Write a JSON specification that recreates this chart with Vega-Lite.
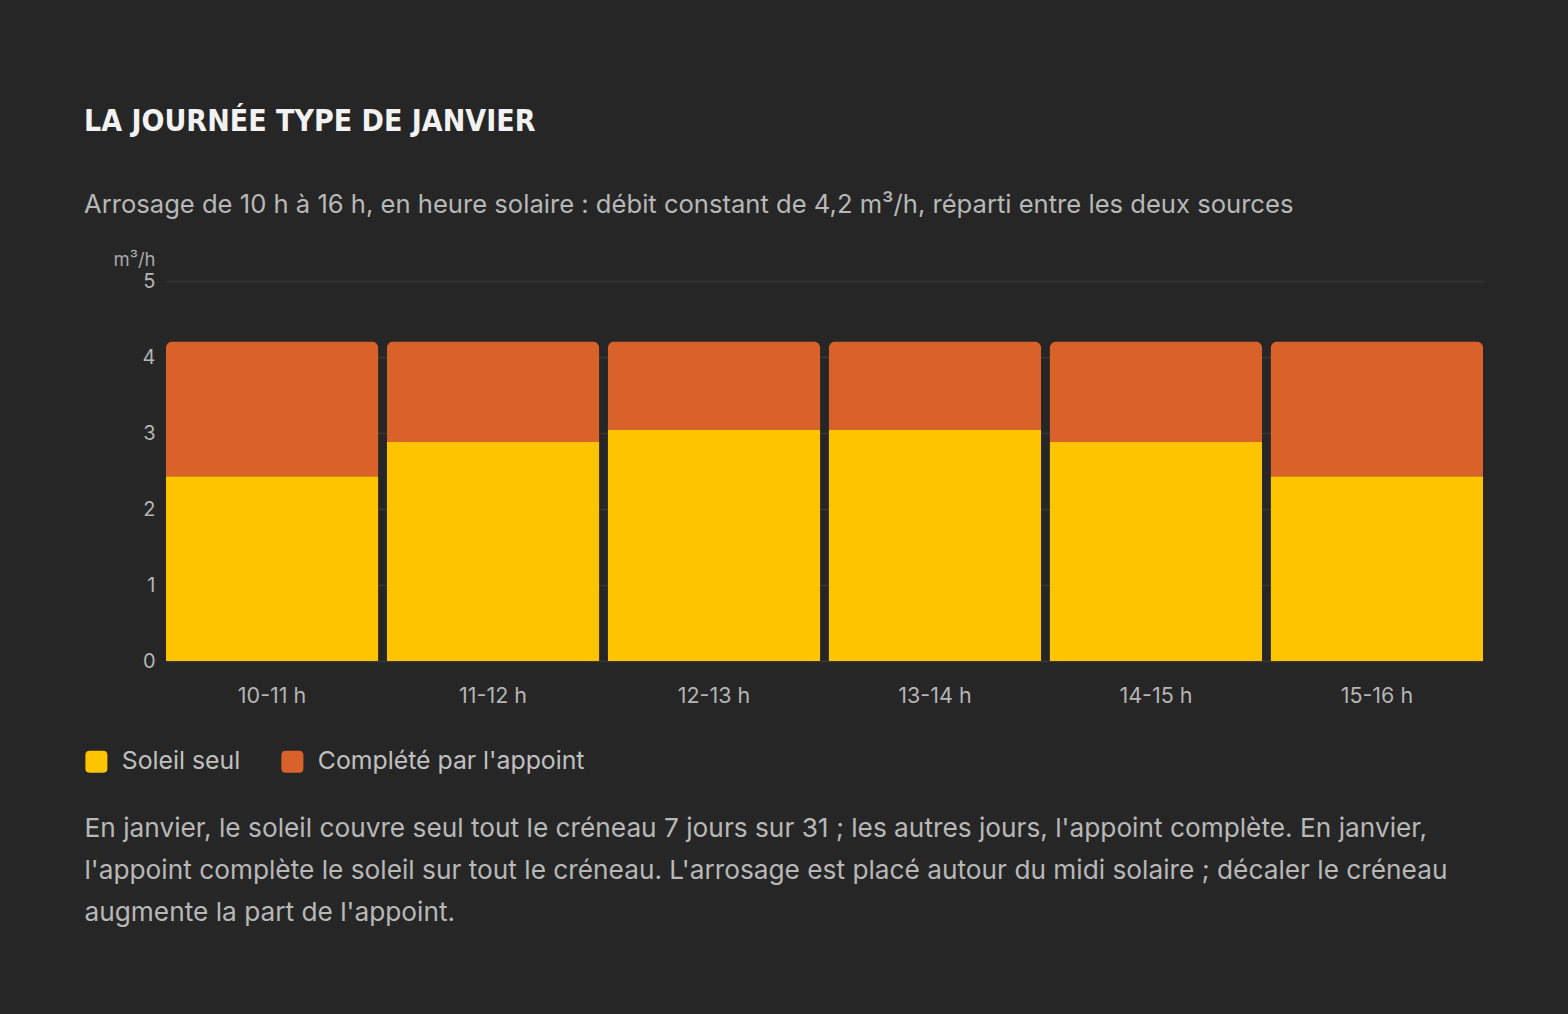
{
  "$schema": "https://vega.github.io/schema/vega-lite/v6.json",
  "width": 1317,
  "height": 380,
  "autosize": {"type": "none"},
  "padding": {"left": 166, "top": 281, "right": 85, "bottom": 353},
  "background": "#262626",
  "title": {
    "text": "LA JOURNÉE TYPE DE JANVIER",
    "subtitle": "Arrosage de 10 h à 16 h, en heure solaire : débit constant de 4,2 m³/h, réparti entre les deux sources",
    "anchor": "start",
    "frame": "group",
    "dx": -82,
    "offset": 31,
    "font": "'Liberation Sans Narrow', 'DejaVu Sans Condensed', 'Roboto', sans-serif",
    "fontSize": 30,
    "fontWeight": "bold",
    "color": "#f2f2f2",
    "subtitleFont": "Inter",
    "subtitleFontSize": 25.6,
    "subtitleColor": "#b8b8b8",
    "subtitlePadding": 56
  },
  "data": {
    "values": [
      {"heure": "10-11 h", "soleil": 2.43, "total": 4.2},
      {"heure": "11-12 h", "soleil": 2.88, "total": 4.2},
      {"heure": "12-13 h", "soleil": 3.04, "total": 4.2},
      {"heure": "13-14 h", "soleil": 3.04, "total": 4.2},
      {"heure": "14-15 h", "soleil": 2.88, "total": 4.2},
      {"heure": "15-16 h", "soleil": 2.43, "total": 4.2}
    ]
  },
  "encoding": {
    "x": {
      "field": "heure",
      "type": "nominal",
      "sort": null,
      "scale": {"paddingInner": 0.04, "paddingOuter": 0},
      "axis": {
        "labelAngle": 0,
        "labelFont": "Inter",
        "labelFontSize": 21.5,
        "labelColor": "#b5b5b5",
        "labelPadding": 24,
        "ticks": false,
        "domain": false,
        "title": [
          "En janvier, le soleil couvre seul tout le créneau 7 jours sur 31 ; les autres jours, l'appoint complète. En janvier,",
          "l'appoint complète le soleil sur tout le créneau. L'arrosage est placé autour du midi solaire ; décaler le créneau",
          "augmente la part de l'appoint."
        ],
        "titleFont": "Inter",
        "titleFontSize": 26.25,
        "titleFontWeight": "normal",
        "titleColor": "#b8b8b8",
        "titleLineHeight": 42,
        "titleAnchor": "start",
        "titleAlign": "left",
        "titleBaseline": "alphabetic",
        "titleX": -82,
        "titleY": 175,
        "titleLimit": 2000
      }
    }
  },
  "layer": [
    {
      "mark": {"type": "bar"},
      "encoding": {
        "y": {
          "field": "soleil",
          "type": "quantitative",
          "scale": {"domain": [0, 5], "nice": false},
          "axis": {
            "values": [0, 1, 2, 3, 4, 5],
            "format": "d",
            "title": "m³/h",
            "titleAngle": 0,
            "titleAlign": "right",
            "titleBaseline": "alphabetic",
            "titleX": -11,
            "titleY": -16,
            "titleFont": "Inter",
            "titleFontSize": 18.5,
            "titleFontWeight": "normal",
            "titleColor": "#aaaaaa",
            "labelFont": "Inter",
            "labelFontSize": 20,
            "labelColor": "#b5b5b5",
            "labelPadding": 11,
            "ticks": false,
            "domain": false,
            "gridColor": "#383838",
            "gridWidth": 1.5
          }
        },
        "color": {
          "datum": "Soleil seul",
          "type": "nominal",
          "scale": {
            "domain": ["Soleil seul", "Complété par l'appoint"],
            "range": ["#ffc400", "#d9622b"]
          },
          "legend": {
            "orient": "none",
            "direction": "horizontal",
            "legendX": -82,
            "legendY": 468,
            "title": null,
            "symbolType": "M -0.6 -1 L 0.6 -1 Q 1 -1 1 -0.6 L 1 0.6 Q 1 1 0.6 1 L -0.6 1 Q -1 1 -1 0.6 L -1 -0.6 Q -1 -1 -0.6 -1 Z",
            "symbolSize": 484,
            "symbolStrokeWidth": 0,
            "symbolOpacity": 1,
            "labelFont": "Inter",
            "labelFontSize": 24.8,
            "labelColor": "#c0c0c0",
            "labelOffset": 13,
            "columnPadding": 39,
            "labelLimit": 500
          }
        }
      }
    },
    {
      "mark": {"type": "bar", "cornerRadiusTopLeft": 6, "cornerRadiusTopRight": 6},
      "encoding": {
        "y": {"field": "soleil", "type": "quantitative"},
        "y2": {"field": "total"},
        "color": {"datum": "Complété par l'appoint", "type": "nominal"}
      }
    }
  ],
  "config": {
    "view": {"stroke": null},
    "font": "Inter"
  }
}
